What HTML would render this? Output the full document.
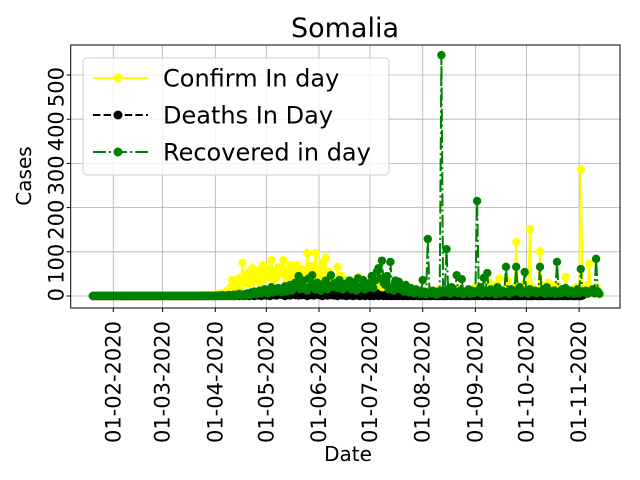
<!DOCTYPE html>
<html><head><meta charset="utf-8"><style>
body{margin:0;background:#fff;}
svg{display:block;font-family:"DejaVu Sans","Liberation Sans",sans-serif;}
</style></head><body>
<svg id="chart" width="640" height="480" viewBox="0 0 640 480" xmlns="http://www.w3.org/2000/svg"></svg>
<script>
const startDate = [2020, 0, 20];
const xTickLabels = ["01-02-2020","01-03-2020","01-04-2020","01-05-2020","01-06-2020","01-07-2020","01-08-2020","01-09-2020","01-10-2020","01-11-2020"];
const xTickDays = [12,41,72,102,133,163,194,225,255,286];
const yTickValues = [0,100,200,300,400,500];
const confirmValues = [
0,0,0,0,0,0,0,0,0,0, 0,0,0,0,0,0,0,0,0,0, 0,0,0,0,0,0,0,0,0,0, 0,0,0,0,0,0,0,0,0,0, 0,0,0,0,0,0,0,0,0,0,
0,0,0,0,0,0,1,0,0,0, 0,1,0,0,2,0,0,3,0,1, 0,2,0,3,5,0,7,4,0,12, 8,20,36,15,25,30,40,22,75,35,
48,30,55,28,63,40,45,52,30,60, 70,38,50,45,60,81,35,55,42,65, 50,60,81,48,33,58,70,40,55,45,
70,50,35,60,45,40,97,55,30,68, 50,97,40,60,35,75,45,86,30,55, 25,40,35,20,66,30,45,25,20,35,
15,30,20,25,10,35,43,15,20,12, 10,18,5,25,8,12,30,6,15,10, 20,5,12,8,15,3,10,18,6,5,
8,12,4,10,3,6,15,2,5,8, 3,10,4,6,2,8,5,3,12,4, 2,6,3,10,15,5,8,3,6,2, 4,10,3,5,15,8,2,6,10,4,
3,8,12,5,2,20,6,4,10,3, 15,5,8,30,4,10,6,25,3,40, 8,5,15,12,35,6,10,4,20,122,
10,5,15,8,30,12,6,151,20,8, 15,5,10,101,25,8,12,5,30,10, 6,20,8,25,12,5,10,15,43,8,
10,5,12,6,20,8,4,287,15,6, 10,25,73,8,12,5,20,10,4];
const deathValues = [
0,0,0,0,0,0,0,0,0,0, 0,0,0,0,0,0,0,0,0,0, 0,0,0,0,0,0,0,0,0,0, 0,0,0,0,0,0,0,0,0,0, 0,0,0,0,0,0,0,0,0,0,
0,0,0,0,0,0,0,0,0,0, 0,0,0,0,0,0,0,0,0,0, 0,0,0,0,1,0,0,1,0,0, 2,0,1,0,0,3,0,1,2,0,
4,1,0,3,2,0,5,1,2,0, 6,2,1,4,0,8,2,3,1,5, 3,7,2,0,4,6,1,3,5,2, 8,1,4,2,6,3,0,5,2,7,
1,3,6,2,4,0,5,8,1,3, 2,4,1,3,0,6,2,1,3,0, 5,1,2,0,3,1,8,0,2,1, 0,2,1,0,3,0,1,6,0,2,
1,0,2,0,1,0,0,3,0,1, 0,2,0,0,1,0,0,2,0,0, 1,0,0,0,2,0,0,1,0,0, 0,1,0,0,0,1,0,0,0,2,
0,0,1,0,0,0,0,1,0,0, 0,0,0,1,0,0,0,0,2,0, 0,1,0,0,0,0,1,0,0,0, 0,0,1,0,0,0,0,0,1,0,
0,0,0,0,1,0,0,0,0,0, 1,0,0,0,0,0,0,1,0,0, 0,0,0,0,0,1,0,0,0,0, 0,1,0,0,0,0,0,0,1];
const recoveredValues = [
0,0,0,0,0,0,0,0,0,0, 0,0,0,0,0,0,0,0,0,0, 0,0,0,0,0,0,0,0,0,0, 0,0,0,0,0,0,0,0,0,0, 0,0,0,0,0,0,0,0,0,0,
0,0,0,0,0,0,0,0,0,0, 0,0,0,0,0,0,0,0,0,0, 0,0,0,1,0,0,2,0,0,1, 0,2,0,3,0,1,5,2,0,4,
3,6,2,8,5,10,4,7,12,6, 8,15,10,6,12,20,8,14,10,18, 12,8,16,22,10,15,25,12,18,30,
20,45,15,28,35,18,12,40,22,47, 25,15,30,20,12,18,28,35,15,22, 47,25,20,30,18,36,25,15,22,28,
20,35,15,25,30,12,40,18,22,36, 15,25,20,30,45,18,35,55,63,40, 80,30,25,45,15,77,20,12,35,25,
32,15,20,10,25,12,8,18,10,6, 15,8,12,5,36,10,4,129,8,6, 12,5,3,10,6,545,12,8,106,15,
5,20,8,10,47,6,12,38,4,10, 8,15,5,12,6,10,215,8,20,5, 41,10,52,6,15,8,12,4,20,10,
6,12,8,66,10,5,15,8,12,66, 10,20,6,8,54,12,5,15,10,8, 12,6,10,66,8,15,5,20,10,6,
8,12,5,77,10,6,15,8,18,10, 6,12,8,5,10,15,6,61,10,8, 12,5,10,8,15,6,84,10,5];

const NS = "http://www.w3.org/2000/svg";
const svg = document.getElementById('chart');
const L = 70.7, R = 620, T = 45, B = 308;
function xPos(d){ return 113.3 + (d - 12) * 1.70; }
function yPos(v){ return 296 - v * 0.442; }
function mk(tag, attrs, parent){
  const e = document.createElementNS(NS, tag);
  for (const k in attrs) e.setAttribute(k, attrs[k]);
  (parent || svg).appendChild(e);
  return e;
}
const grid = mk('g', {});


xTickDays.forEach(d => {
  const l = mk('line', {x1:xPos(d), x2:xPos(d), y1:T, y2:B, stroke:'#b0b0b0', 'stroke-width':0.8}, grid);
  
  
});
yTickValues.forEach(v => {
  const l = mk('line', {x1:L, x2:R, y1:yPos(v), y2:yPos(v), stroke:'#b0b0b0', 'stroke-width':0.8}, grid);
  
  
});
function series(vals, color, dash, name){
  const g = mk('g', {});
  
  
  const pts = vals.map((v,i) => xPos(i).toFixed(1) + ',' + yPos(v).toFixed(1)).join(' ');
  const pl = mk('polyline', {points:pts, fill:'none', stroke:color, 'stroke-width':2, 'stroke-dasharray':dash}, g);
  
  
  vals.forEach((v,i) => {
    const c = mk('circle', {cx:xPos(i), cy:yPos(v), r:4.2, fill:color}, g);
    
    
  });
}
series(confirmValues, '#ffff00', 'none', 'confirm-series');
series(deathValues, '#000000', '7.4,3.2', 'deaths-series');
series(recoveredValues, '#008000', '12.8,3.2,2,3.2', 'recovered-series');
const frame = mk('rect', {x:L, y:T, width:R-L, height:B-T, fill:'none', stroke:'#000', 'stroke-width':1});


xTickDays.forEach((d,i) => {
  const t = mk('line', {x1:xPos(d), x2:xPos(d), y1:B, y2:B+4, stroke:'#000'});
  
  
  const tx = mk('text', {x:0, y:0, 'font-size':21, 'text-anchor':'end', 'dominant-baseline':'central', transform:'translate(' + xPos(d) + ',' + (B+13) + ') rotate(-90)'});
  tx.textContent = xTickLabels[i];
  
  
});
yTickValues.forEach(v => {
  const t = mk('line', {x1:L-4, x2:L, y1:yPos(v), y2:yPos(v), stroke:'#000'});
  
  
  const tx = mk('text', {x:0, y:0, 'font-size':21, 'text-anchor':'end', transform:'translate(' + (L-7) + ',' + (yPos(v)-8) + ') rotate(-90)'});
  tx.textContent = String(v);
  
  
});
</script>
<script>
(function(){
  const NS = "http://www.w3.org/2000/svg";
  const svg = document.getElementById('chart');
  function mk(tag, attrs, parent){
    const e = document.createElementNS(NS, tag);
    for (const k in attrs) e.setAttribute(k, attrs[k]);
    (parent || svg).appendChild(e);
    return e;
  }
  const title = mk('text', {x:345, y:37, 'font-size':27, 'text-anchor':'middle'});
  title.textContent = 'Somalia';
  
  
  const xl = mk('text', {x:348, y:461, 'font-size':20, 'text-anchor':'middle'});
  xl.textContent = 'Date';
  
  
  const yl = mk('text', {x:0, y:0, 'font-size':20, 'text-anchor':'middle', transform:'translate(31,176) rotate(-90)'});
  yl.textContent = 'Cases';
  
  
  const lg = mk('g', {});
  
  
  const box = mk('rect', {x:83, y:58, width:306, height:117, rx:4, fill:'#fff', 'fill-opacity':0.8, stroke:'#cccccc', 'stroke-width':1}, lg);
  
  
  const entries = [['Confirm In day','#ffff00','none',78],['Deaths In Day','#000000','7.4,3.2',115],['Recovered in day','#008000','12.8,3.2,2,3.2',152]];
  entries.forEach(e => {
    const g = mk('g', {}, lg);
    
    
    mk('line', {x1:93, x2:148, y1:e[3], y2:e[3], stroke:e[1], 'stroke-width':2, 'stroke-dasharray':e[2]}, g);
    mk('circle', {cx:118, cy:e[3], r:4.5, fill:e[1]}, g);
    const t = mk('text', {x:163, y:e[3]+8.5, 'font-size':24}, g);
    t.textContent = e[0];
    
    
  });
})();
</script>
</body></html>
